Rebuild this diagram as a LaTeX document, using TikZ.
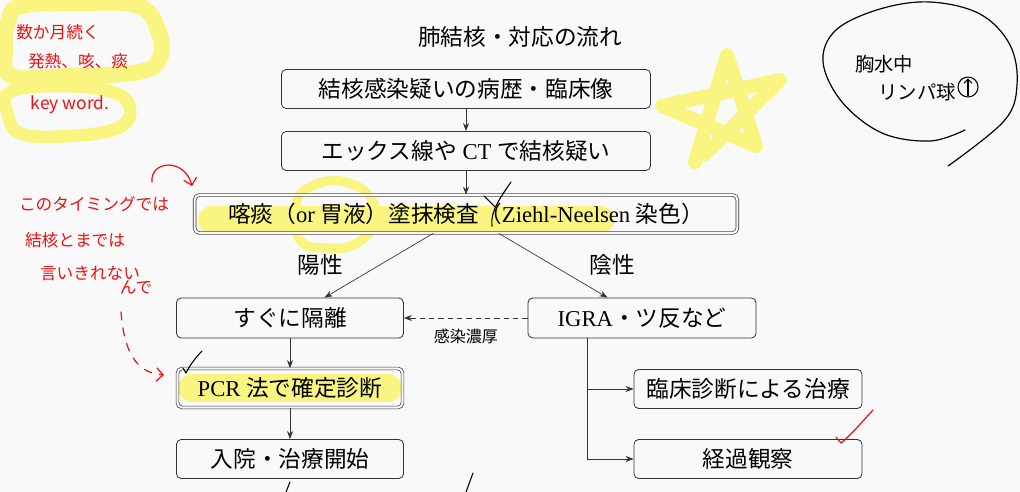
\documentclass[tikz,border=0pt]{standalone}
\usepackage{fontspec}
\setmainfont{Liberation Serif}
\newfontfamily\jp{Noto Sans CJK JP}
\usetikzlibrary{arrows.meta,calc}
\definecolor{bgc}{HTML}{F9F9F9}
\definecolor{hl}{RGB}{249,245,128}
\definecolor{pen}{HTML}{EE1111}
\definecolor{boxc}{HTML}{333333}
\begin{document}
\begin{tikzpicture}[x=0.75pt,y=-0.75pt,
  box/.style={draw=boxc, line width=0.6pt, rounded corners=3.5pt, inner sep=0pt,
    font=\fontsize{17}{20}\selectfont, text=black},
  dbox/.style={box, double=bgc, double distance=1.6pt, line width=0.5pt},
  arr/.style={draw=boxc, line width=0.5pt, -{Stealth[length=6pt,width=4.5pt]}},
  lbl/.style={font=\fontsize{17}{20}\selectfont\jp, text=black},
  hlpen/.style={draw=hl, line cap=round, line join=round},
  rpen/.style={draw=pen, line width=0.9pt, line cap=round, line join=round},
  rtext/.style={text=pen, font=\jp\fontsize{12.5}{14}\selectfont, inner sep=0pt},
  kpen/.style={draw=black, line width=0.9pt, line cap=round, line join=round},
  ktext/.style={text=black, font=\jp\fontsize{14.5}{16}\selectfont, inner sep=0pt}]
\useasboundingbox (0,0) rectangle (1020,492);
\fill[bgc] (0,0) rectangle (1020,492);

% ---- yellow highlights (behind the boxes) ----
\draw[hlpen, line width=12pt] plot[smooth cycle, tension=0.7] coordinates
  {(8,22) (22,6) (80,3) (138,6) (158,30) (160,58) (138,72) (70,76) (12,76) (5,50)};
\draw[hlpen, line width=9.5pt] plot[smooth cycle, tension=0.7] coordinates
  {(10,92) (60,86) (112,92) (130,108) (118,128) (70,136) (22,134) (8,115)};
\draw[hlpen, line width=10.5pt] (695,162) -- (727,55) -- (756,146) -- (662,106) -- (780,80) -- (705,154);
\draw[hlpen, line width=21pt] (212,220) -- (600,220);
\draw[hlpen, line width=7pt] plot[smooth cycle, tension=0.8] coordinates
  {(300,240) (296,205) (312,186) (345,182) (372,200) (372,226) (355,244) (328,248)};
\draw[hlpen, line width=21pt] (192,388) -- (388,388);

% ---- flowchart ----
\node[lbl] (title) at (520,37) {肺結核・対応の流れ};
\node[box, minimum width=276.75pt, minimum height=29.25pt] (b1) at (466,89)
  {\jp 結核感染疑いの病歴・臨床像};
\node[box, minimum width=276.75pt, minimum height=29.25pt] (b2) at (466,151)
  {{\jp エックス線や} CT {\jp で結核疑い}};
\node[dbox, minimum width=407pt, minimum height=28.5pt] (b3) at (466,214)
  {{\jp 喀痰（}or {\jp 胃液）塗抹検査（}Ziehl-Neelsen {\jp 染色）}};
\node[box, minimum width=170.25pt, minimum height=30pt] (iso) at (290,318)
  {\jp すぐに隔離};
\node[box, minimum width=171pt, minimum height=30pt] (igra) at (642,318)
  {IGRA{\jp ・ツ反など}};
\node[dbox, minimum width=168.75pt, minimum height=29.25pt] (pcr) at (290,388)
  {PCR {\jp 法で確定診断}};
\node[box, minimum width=170.25pt, minimum height=29.25pt] (adm) at (290,459)
  {\jp 入院・治療開始};
\node[box, minimum width=171pt, minimum height=29.25pt] (clin) at (748,389)
  {\jp 臨床診断による治療};
\node[box, minimum width=171pt, minimum height=29.25pt] (obs) at (748,459)
  {\jp 経過観察};

\draw[arr] (b1) -- (b2);
\draw[arr] (b2) -- (b3);
\draw[arr] (b3) -- (iso);
\draw[arr] (b3) -- (igra);
\node[lbl] (pos) at (320,265) {陽性};
\node[lbl] (neg) at (612,265) {陰性};
\draw[arr, dash pattern=on 4pt off 3pt] (igra) -- (iso)
  node[midway, below=5pt, font=\jp\fontsize{12}{13}\selectfont, text=black] (dense) {感染濃厚};
\draw[arr] (iso) -- (pcr);
\draw[arr] (pcr) -- (adm);
\coordinate (br) at ($(igra.south)+(-55,0)$);
\draw[arr] (br) |- (clin);
\draw[arr] (br) |- (obs);

% ---- red handwriting ----
\node[rtext] (n1) at (58,32) {数か月続く};
\node[rtext] (n2) at (78,61) {発熱、咳、痰};
\node[rtext, font=\jp\fontsize{13}{14}\selectfont] (n3) at (70,105) {key word.};
\node[rtext] (n4) at (94,204) {このタイミングでは};
\node[rtext] (n5) at (75,240) {結核とまでは};
\node[rtext] (n6) at (90,273) {言いきれない};
\node[rtext] (n7) at (136,287) {んで};
\draw[rpen, -{Straight Barb[length=5pt]}] (152,182) .. controls (150,160) and (185,158) .. (192,186);
\draw[rpen, dash pattern=on 6pt off 6pt, -{Straight Barb[length=5pt]}]
  (121,312) .. controls (124,350) and (135,373) .. (164,375);
\draw[rpen] (836,437) -- (841,443) .. controls (850,436) and (862,422) .. (873,410);

% ---- black handwriting ----
\draw[kpen, line width=0.8pt] (183,368) -- (186,373) .. controls (190,365) and (196,357) .. (202,351);
\draw[kpen, line width=0.8pt] (484,196) -- (495,207);
\draw[kpen, line width=0.8pt] (511,182) .. controls (500,198) and (490,212) .. (492,226);
\draw[kpen, line width=0.8pt] (290,482) -- (286,492);
\draw[kpen, line width=0.8pt] (473,473) -- (466,492);
\draw[kpen] plot[smooth, tension=0.6] coordinates
  {(965,130) (930,141) (882,133) (842,102) (823,62) (836,30) (880,9) (930,2) (980,14) (1010,45) (1017,85) (1004,121) (948,166)};
\node[ktext] (t1) at (884,64) {胸水中};
\node[ktext] (t2) at (917,92) {リンパ球};
\node[draw=black, line width=0.8pt, circle, minimum size=15pt, inner sep=0pt] (up) at (968,87) {};
\draw[kpen, line width=0.8pt, -{Straight Barb[length=3pt]}] ($(up.south)+(0,-2)$) -- ($(up.north)+(0,2)$);
\end{tikzpicture}
\end{document}
